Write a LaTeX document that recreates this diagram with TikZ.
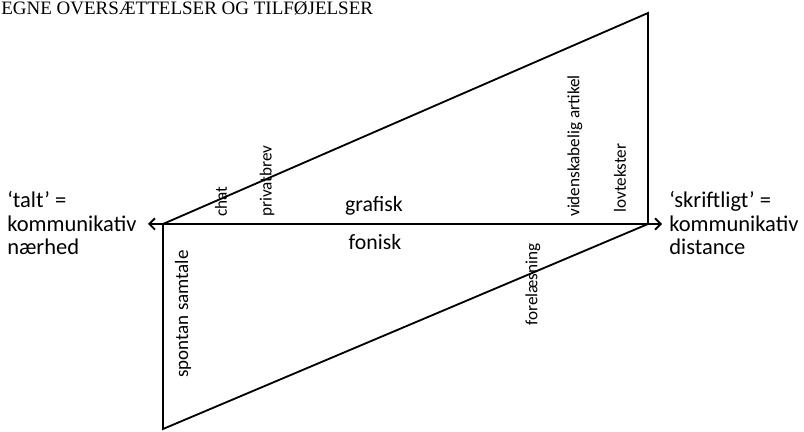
\documentclass[tikz,border=0pt]{standalone}
\usepackage{fontspec}
\setmainfont{Carlito}
\newfontfamily\headfont{Liberation Serif}
\usetikzlibrary{arrows.meta}
\tikzset{
  edge/.style={line width=1.3pt, line cap=round, line join=miter},
  axis/.style={edge, {Straight Barb[length=4pt,width=8pt]}-{Straight Barb[length=4pt,width=8pt]}},
  genre/.style={rotate=90, font=\fontsize{12.2}{14}\selectfont, inner sep=0pt},
  pole/.style={anchor=west, align=left, font=\fontsize{16}{16.8}\selectfont, inner sep=0pt},
  medium/.style={font=\fontsize{15.5}{17}\selectfont, inner sep=0pt}
}
\begin{document}
\begin{tikzpicture}[x=0.025cm, y=-0.025cm]
	\useasboundingbox (0,0) rectangle (804,432);
	% header
	\node[anchor=base west, inner sep=0pt, font=\headfont\fontsize{13.5}{14}\selectfont] (head) at (1,15) {EGNE OVERSÆTTELSER OG TILFØJELSER};
	
	% corners of the two triangles
	\coordinate (L) at (163,224);
	\coordinate (R) at (648,224);
	\coordinate (T) at (648,13);
	\coordinate (B) at (163,429);
	\coordinate (Ltip) at (148,224);
	\coordinate (Rtip) at (662,224);
	
	% grafisk (upper) and fonisk (lower)
	\draw[edge] (L) -- (T) -- (R);
	\draw[edge] (L) -- (B) -- (R);
	\draw[axis] (Ltip) -- (Rtip);
	
	\node[medium] (graf) at (374,206) {grafisk};
	\node[medium] (fon) at (375,242) {fonisk};
	
	% poles
	\node[pole] (near) at (7,223) {‘talt’ =\\kommunikativ\\nærhed};
	\node[pole] (far) at (669,223) {‘skriftligt’ =\\kommunikativ\\distance};
	
	% genres
	\node[genre, anchor=west] (chat) at (221,217) {chat};
	\node[genre, anchor=west] (brev) at (267,217) {privatbrev};
	\node[genre, anchor=west] (artikel) at (575,217) {videnskabelig artikel};
	\node[genre, anchor=west] (lov) at (620,213) {lovtekster};
	\node[genre, anchor=east, font=\fontsize{13.5}{15}\selectfont] (samtale) at (183,250) {spontan samtale};
	\node[genre, anchor=east] (forelaes) at (533,243) {forelæsning};
\end{tikzpicture}
\end{document}
